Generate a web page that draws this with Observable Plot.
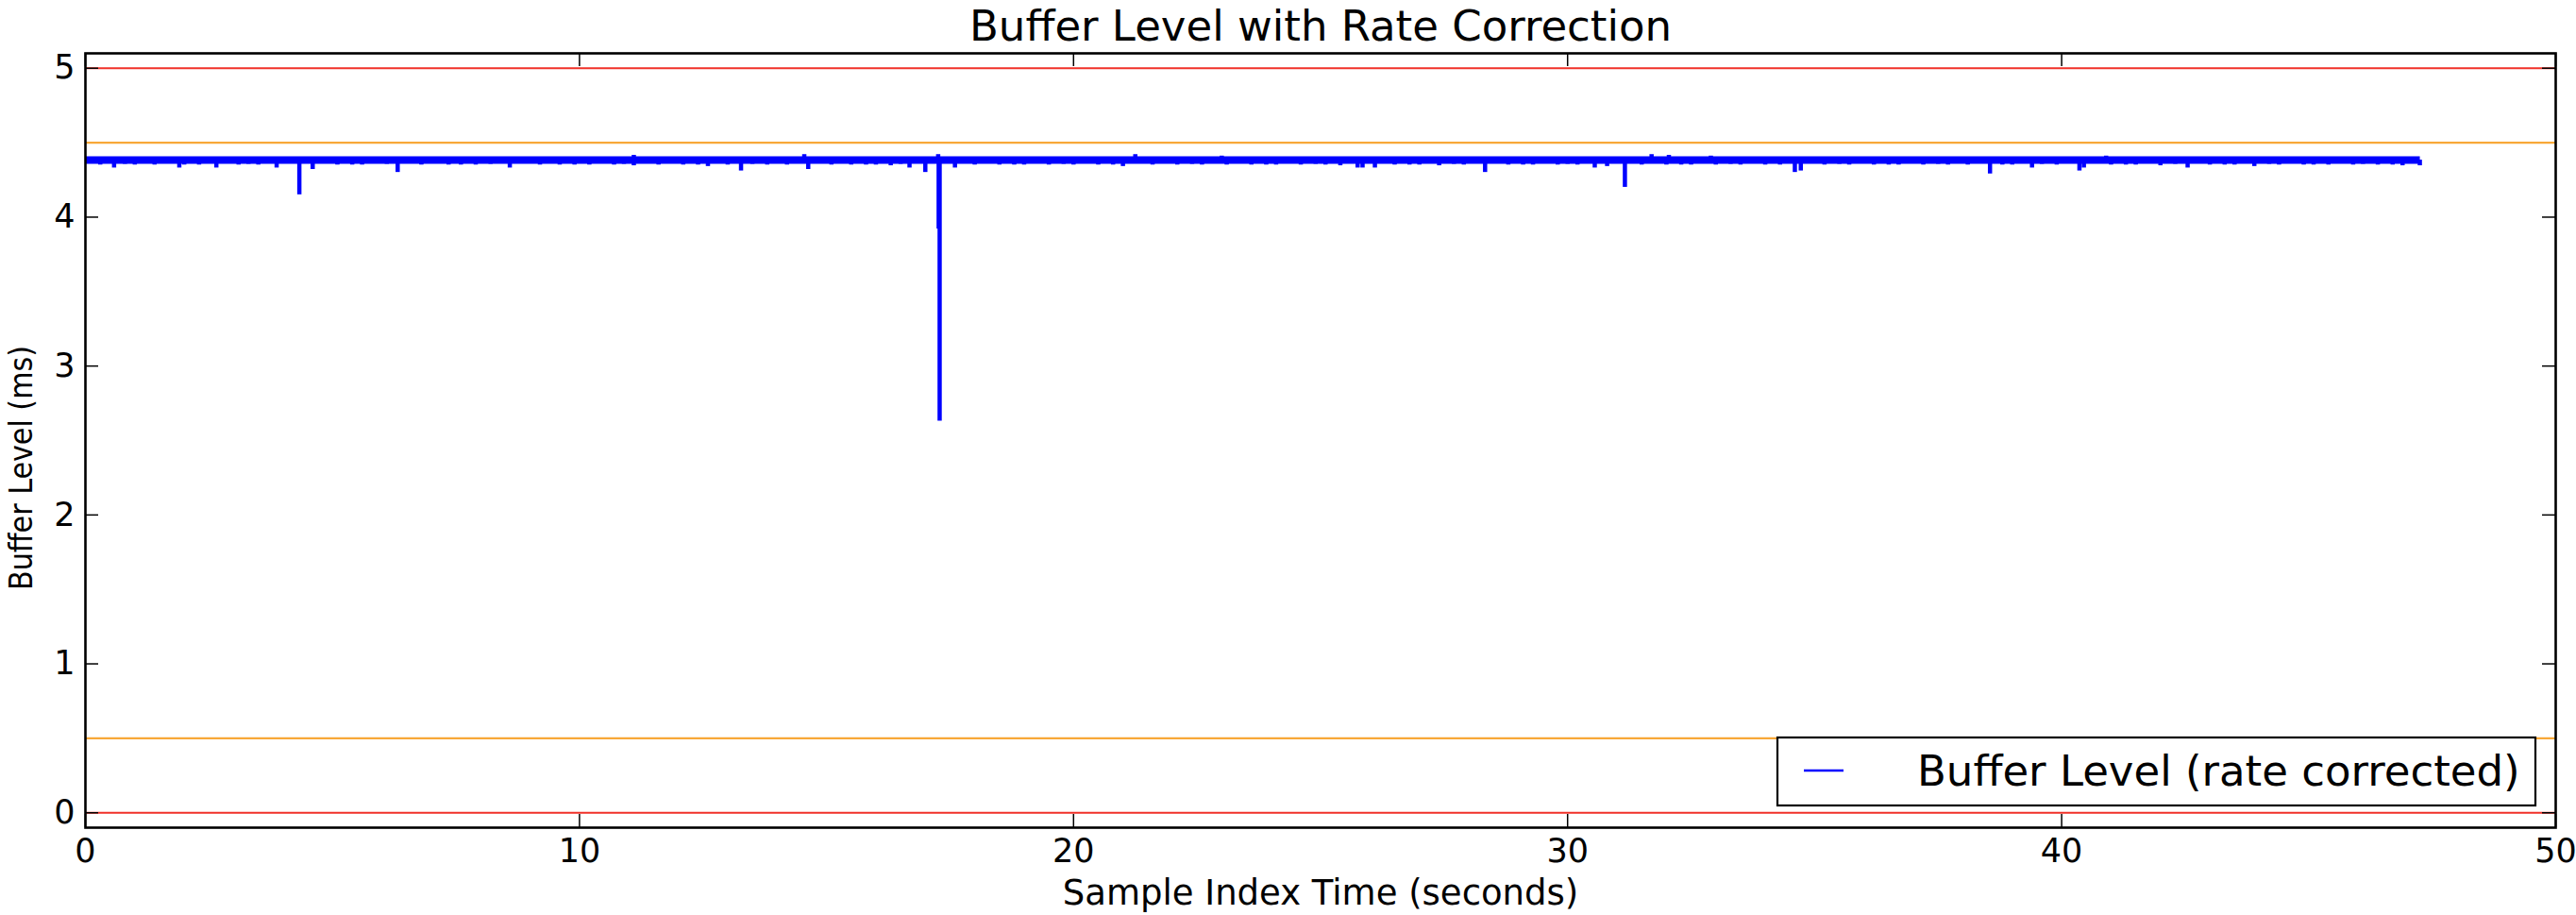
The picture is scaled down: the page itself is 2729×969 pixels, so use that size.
<!DOCTYPE html>
<html>
<head>
<meta charset="utf-8">
<script src="https://cdn.jsdelivr.net/npm/d3@7"></script>
<script src="https://cdn.jsdelivr.net/npm/@observablehq/plot@0.6"></script>
<style>
  html, body { margin: 0; padding: 0; background: #fff; }
  #chart svg { display: block; }
</style>
</head>
<body>
<div id="chart"></div>
<script>
// ---- data ----
const titleText = "Buffer Level with Rate Correction";
const xLabel = "Sample Index Time (seconds)";
const yLabel = "Buffer Level (ms)";
const legendLabel = "Buffer Level (rate corrected)";

const xTicks = [0, 10, 20, 30, 40, 50];
const yTicks = [0, 1, 2, 3, 4, 5];

// threshold lines
const limitLevels = [5, 0];
const warnLevels = [4.5, 0.5];

// steady buffer level (seconds, ms)
const baseTimes  = [0, 5, 10, 15, 20, 25, 30, 35, 40, 45, 47.25];
const baseValues = [4.383, 4.383, 4.383, 4.383, 4.383, 4.383, 4.383, 4.383, 4.383, 4.383, 4.383];

// short excursions of the buffer level (seconds, ms)
const spikeTimes = [
  0.3, 0.58, 1.0, 1.4, 1.9, 2.3, 2.65, 3.1, 3.5, 3.87, 4.33, 4.6, 5.1, 5.6, 6.32, 6.8, 7.35, 7.9,
  8.59, 9.2, 9.6, 10.2, 10.7, 11.1, 11.6, 12.1, 12.6, 13.0, 13.27, 13.8, 14.2, 14.63, 15.1, 15.5,
  16.0, 16.3, 16.68, 17.0, 17.27, 17.29, 17.6,
  18.0, 18.5, 19.0, 19.5, 20.0, 20.5, 21.0, 21.6, 22.1, 22.6, 23.1, 23.6, 24.1, 24.6, 25.1, 25.4,
  25.75, 25.85, 26.1, 26.5, 27.0, 27.4, 27.9, 28.33, 28.8, 29.3, 29.8, 30.2, 30.55, 30.8, 31.16, 31.5,
  32.0, 32.5, 33.0, 33.5, 34.0, 34.6, 34.72, 35.2, 35.7, 36.2, 36.7, 37.2, 37.7, 38.1, 38.55, 39.0,
  39.4, 39.9, 40.36, 40.45, 41.0, 41.5, 42.0, 42.55, 43.0, 43.5, 43.9, 44.4, 44.9, 45.4, 45.9, 46.4,
  46.9, 47.25,
  0.8, 2.0, 3.3, 5.4, 6.1, 7.6, 8.2, 9.9, 10.9, 12.4, 13.5, 15.8, 16.5, 18.8, 19.8, 20.8, 22.4, 23.9,
  24.9, 26.8, 27.7, 29.1, 30.0, 32.3, 33.3, 34.3, 35.5, 36.5, 37.5, 38.8, 39.6, 41.3, 42.3, 43.3,
  44.2, 45.1, 46.1, 46.7,
  11.1, 14.55, 17.26, 21.25, 23.0, 31.7, 32.05, 32.9, 40.9
];
const spikeValues = [
  4.35, 4.33, 4.35, 4.35, 4.33, 4.35, 4.33, 4.35, 4.35, 4.33, 4.15, 4.32, 4.35, 4.35, 4.30, 4.35, 4.35, 4.35,
  4.33, 4.35, 4.35, 4.35, 4.35, 4.345, 4.35, 4.35, 4.34, 4.35, 4.31, 4.35, 4.35, 4.32, 4.35, 4.35,
  4.35, 4.345, 4.33, 4.30, 3.92, 2.63, 4.33,
  4.35, 4.35, 4.35, 4.35, 4.35, 4.35, 4.34, 4.35, 4.35, 4.35, 4.35, 4.35, 4.35, 4.35, 4.35, 4.345,
  4.33, 4.33, 4.33, 4.35, 4.35, 4.345, 4.35, 4.30, 4.35, 4.35, 4.35, 4.35, 4.33, 4.34, 4.20, 4.35,
  4.35, 4.35, 4.35, 4.35, 4.35, 4.30, 4.31, 4.35, 4.35, 4.35, 4.35, 4.35, 4.35, 4.35, 4.29, 4.35,
  4.33, 4.35, 4.31, 4.33, 4.35, 4.35, 4.345, 4.33, 4.35, 4.35, 4.34, 4.35, 4.35, 4.35, 4.35, 4.35,
  4.345, 4.345,
  4.355, 4.35, 4.355, 4.35, 4.355, 4.35, 4.355, 4.35, 4.355, 4.35, 4.355, 4.35, 4.355, 4.35, 4.355, 4.35, 4.355, 4.35,
  4.355, 4.35, 4.355, 4.35, 4.355, 4.35, 4.355, 4.35, 4.355, 4.35, 4.355, 4.35, 4.355, 4.35, 4.355, 4.35,
  4.355, 4.35, 4.355, 4.35,
  4.415, 4.42, 4.42, 4.42, 4.41, 4.42, 4.415, 4.41, 4.41
];

// ---- tables ----
const base = baseTimes.map((t, i) => ({t, v: baseValues[i]}));
const spikes = spikeTimes.map((t, i) => ({t, v: spikeValues[i]}));

const W = 2729, H = 969;
const mL = 90, mR = 22, mT = 56, mB = 93;
const innerW = W - mL - mR, innerH = H - mT - mB;
const tickLen = 14;
const font = "'DejaVu Sans', 'Liberation Sans', sans-serif";

const chart = Plot.plot({
  width: W,
  height: H,
  marginLeft: mL,
  marginRight: mR,
  marginTop: mT,
  marginBottom: mB,
  style: {fontFamily: font, fontSize: "34px", color: "#000", background: "#fff"},
  x: {domain: [0, 50], label: null},
  y: {domain: [-0.1, 5.1], label: null},
  marks: [
    Plot.ruleY(limitLevels, {y: d => d, stroke: "#f03028", strokeWidth: 2.2}),
    Plot.ruleY(warnLevels, {y: d => d, stroke: "#f8a838", strokeWidth: 2.2}),
    Plot.ruleX(spikes, {x: "t", y1: d => baseValues[0], y2: "v", stroke: "#0000ff", strokeWidth: 4.5}),
    Plot.line(base, {x: "t", y: "v", stroke: "#0000ff", strokeWidth: 8, strokeLinecap: "butt"}),
    // inward ticks on all four sides
    Plot.tickX(xTicks, {x: d => d, insetTop: innerH - tickLen, stroke: "#000", strokeWidth: 1.5}),
    Plot.tickX(xTicks, {x: d => d, insetBottom: innerH - tickLen, stroke: "#000", strokeWidth: 1.5}),
    Plot.tickY(yTicks, {y: d => d, insetRight: innerW - tickLen, stroke: "#000", strokeWidth: 1.5}),
    Plot.tickY(yTicks, {y: d => d, insetLeft: innerW - tickLen, stroke: "#000", strokeWidth: 1.5}),
    Plot.axisX({ticks: xTicks, tickSize: 0, tickPadding: 12, label: null, fontSize: 35, tickFormat: d => String(d)}),
    Plot.axisY({ticks: yTicks, tickSize: 0, tickPadding: 11, label: null, fontSize: 35, tickFormat: d => String(d)}),
    Plot.frame({stroke: "#000", strokeWidth: 2.6}),
    Plot.text([yLabel], {frameAnchor: "left", dx: -67, dy: 29, rotate: -90, textAnchor: "middle", lineAnchor: "middle", fontSize: 34, fill: "#000"}),
    Plot.text([xLabel], {frameAnchor: "bottom", dy: 70, textAnchor: "middle", lineAnchor: "middle", fontSize: 37, fill: "#000"}),
    Plot.text([titleText], {frameAnchor: "top", dy: -28, textAnchor: "middle", lineAnchor: "middle", fontSize: 45, fill: "#000"})
  ]
});

document.getElementById("chart").appendChild(chart);

const svg = d3.select(chart);

// the y label in the reference is set in a narrower face: keep its length
svg.selectAll("text")
  .filter(function() { return this.textContent === yLabel; })
  .attr("textLength", 259)
  .attr("lengthAdjust", "spacingAndGlyphs");

// legend box (inside the plot frame, lower right)
const lg = svg.append("g").attr("class", "legend");
lg.append("rect")
  .attr("x", 1883).attr("y", 781).attr("width", 803).attr("height", 72)
  .attr("fill", "#fff").attr("stroke", "#000").attr("stroke-width", 2.2);
lg.append("line")
  .attr("x1", 1911).attr("x2", 1953).attr("y1", 816).attr("y2", 816)
  .attr("stroke", "#0000ff").attr("stroke-width", 2.5);
lg.append("text")
  .attr("x", 2031).attr("y", 832)
  .attr("text-anchor", "start")
  .attr("font-family", font).attr("font-size", 45).attr("fill", "#000")
  .text(legendLabel);
</script>
</body>
</html>
